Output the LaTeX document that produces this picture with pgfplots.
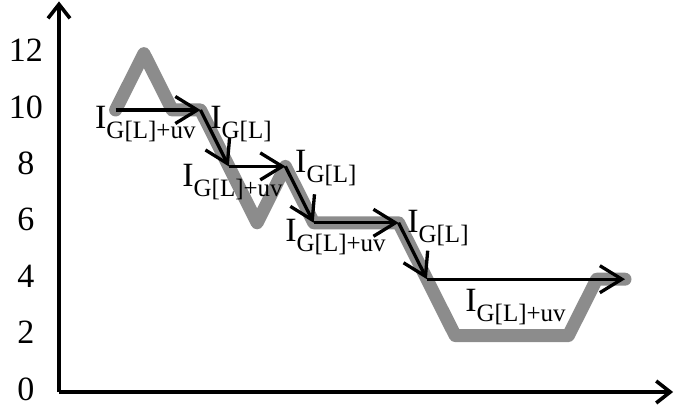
\documentclass[border=0pt]{standalone}
\usepackage{fontspec}
\setmainfont{Liberation Serif}
\usepackage{pgfplots}
\pgfplotsset{compat=1.18}
\usetikzlibrary{arrows.meta}

% I with a lowered, smaller subscript in the text font
\newcommand{\lbl}[1]{I\raisebox{-10bp}{\fontsize{25bp}{28bp}\selectfont #1}}

\tikzset{
    lab/.style={anchor=base west, inner sep=0pt, font=\fontsize{34bp}{40bp}\selectfont},
    arr/.style={black, line width=3.3bp, -{Straight Barb[length=22bp,width=27bp]}},
}

\begin{document}
\begin{tikzpicture}
\begin{axis}[
    x=28.3bp, y=28.2bp,
    xmin=0, xmax=21.7, ymin=0, ymax=13.85,
    axis lines=left,
    axis line style={line width=3.6bp, -{Straight Barb[length=14bp,width=22bp]}},
    xtick=\empty,
    ytick={0,2,...,12},
    major tick length=0pt,
    /pgf/number format/assume math mode=true,
    yticklabel style={font=\fontsize{34bp}{40bp}\selectfont, text width=34bp,
        align=center, inner sep=0pt, anchor=east, xshift=-16bp, yshift=3bp},
    clip=false,
]
\coordinate (O) at (axis cs:0,0);
% grey path
\addplot[black!45, line width=13bp, line join=round, line cap=round]
  coordinates {(2,10) (3,12) (4,10) (5,10) (6,8) (7,6) (8,8) (9,6) (12,6) (13,4) (14,2) (18,2) (19,4) (20,4)};
% black steps
\addplot[arr] coordinates {(2,10) (5,10)};
\addplot[arr] coordinates {(5,10) (6,8)};
\addplot[arr] coordinates {(6,8) (8,8)};
\addplot[arr] coordinates {(8,8) (9,6)};
\addplot[arr] coordinates {(9,6) (12,6)};
\addplot[arr] coordinates {(12,6) (13,4)};
\addplot[arr] coordinates {(13,4) (20,4)};
% labels
\node[lab] at (axis cs:1.27,9.36) {\lbl{G[L]+uv}};
\node[lab] at (axis cs:5.34,9.36) {\lbl{G[L]}};
\node[lab] at (axis cs:4.35,7.27) {\lbl{G[L]+uv}};
\node[lab] at (axis cs:8.34,7.77) {\lbl{G[L]}};
\node[lab] at (axis cs:7.99,5.32) {\lbl{G[L]+uv}};
\node[lab] at (axis cs:12.3,5.67) {\lbl{G[L]}};
\node[lab] at (axis cs:14.35,2.84) {\lbl{G[L]+uv}};
\end{axis}
\pgfresetboundingbox
\path (O) ++(-59bp,-20bp) rectangle ++(674bp,412bp);
\end{tikzpicture}
\end{document}
